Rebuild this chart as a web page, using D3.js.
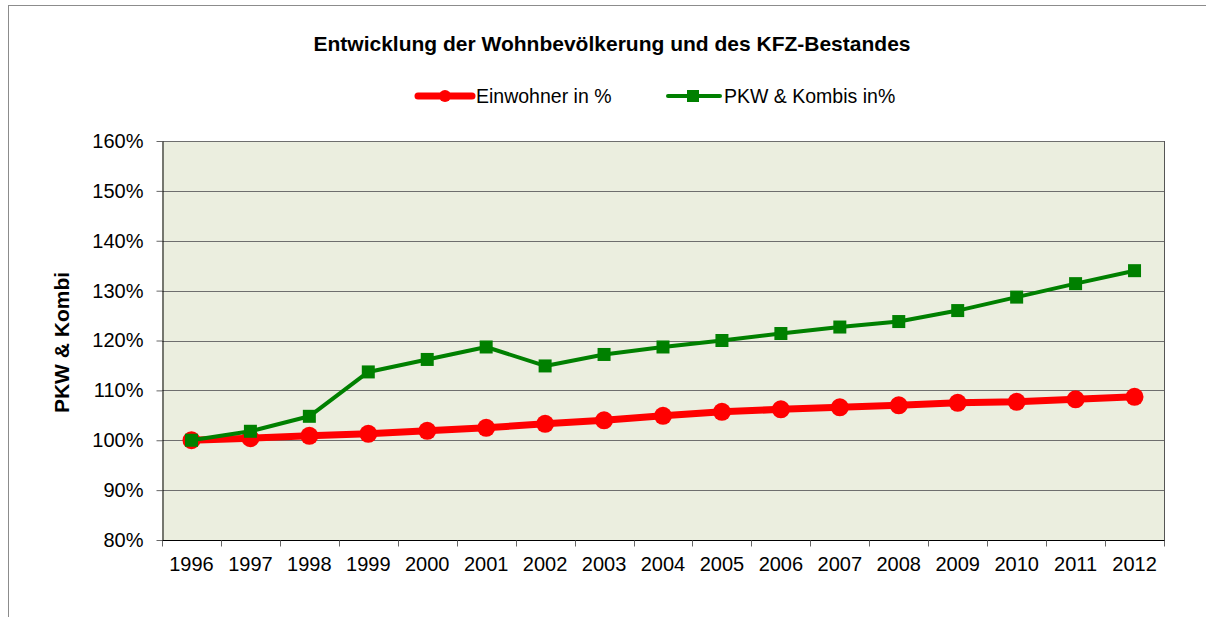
<!DOCTYPE html>
<html>
<head>
<meta charset="utf-8">
<script src="https://cdn.jsdelivr.net/npm/d3@7"></script>
<style>
  body { margin: 0; background: #fff; }
  text { font-family: Arial, "Liberation Sans", sans-serif; fill: #000; }
</style>
</head>
<body>
<div id="root"></div>
<script>
// data
const years = ["1996","1997","1998","1999","2000","2001","2002","2003","2004",
               "2005","2006","2007","2008","2009","2010","2011","2012"];
const einwohner = [100.0,100.4,100.9,101.3,101.9,102.5,103.3,104.0,104.9,
                   105.7,106.2,106.6,107.0,107.5,107.7,108.2,108.7];
const pkw = [100.0,101.8,104.8,113.7,116.2,118.7,114.9,117.2,118.7,
             120.0,121.4,122.7,123.8,126.0,128.7,131.4,134.0];
const yTicks = [80,90,100,110,120,130,140,150,160];

const W = 1206, H = 617;
const plot = {left: 162, top: 141, right: 1164, bottom: 540};

const svg = d3.select("#root").append("svg")
    .attr("width", W).attr("height", H);

// outer chart frame
svg.append("rect")
    .attr("x", 8.5).attr("y", 5.5)
    .attr("width", 1220).attr("height", 640)
    .attr("fill", "#fff").attr("stroke", "#8c8c8c");

// scales
const x = d3.scaleBand().domain(years).range([plot.left, plot.right]);
const y = d3.scaleLinear().domain([80, 160]).range([plot.bottom, plot.top]);
const cx = d => x(d) + x.bandwidth() / 2;

// plot background
svg.append("rect")
    .attr("x", plot.left).attr("y", plot.top)
    .attr("width", plot.right - plot.left).attr("height", plot.bottom - plot.top)
    .attr("fill", "#ebeedf");

// gridlines
svg.append("g").selectAll("line")
    .data(yTicks.slice(1))
    .join("line")
    .attr("x1", plot.left).attr("x2", plot.right)
    .attr("y1", d => Math.round(y(d)) + 0.5).attr("y2", d => Math.round(y(d)) + 0.5)
    .attr("stroke", "#6e6e6e").attr("stroke-width", 1);

// right border of plot
svg.append("line")
    .attr("x1", plot.right + 0.5).attr("x2", plot.right + 0.5)
    .attr("y1", plot.top).attr("y2", plot.bottom)
    .attr("stroke", "#555");

// y axis
const yAxis = d3.axisLeft(y).tickValues(yTicks)
    .tickFormat(d => d + "%").tickSize(6).tickSizeOuter(0).tickPadding(13);
const gy = svg.append("g")
    .attr("transform", "translate(" + (plot.left + 0.5) + ",0)")
    .call(yAxis);
gy.select(".domain").attr("stroke", "#000");
gy.selectAll(".tick line").attr("stroke", "#666");
gy.selectAll("text").style("font-size", "20px").attr("fill", "#000");

// x axis: ticks at category boundaries
const gx = svg.append("g")
    .attr("transform", "translate(0," + (plot.bottom + 0.5) + ")");
gx.append("line")
    .attr("x1", plot.left).attr("x2", plot.right + 1)
    .attr("stroke", "#000");
gx.selectAll(".bt")
    .data(years.concat(["end"]))
    .join("line")
    .attr("class", "bt")
    .attr("x1", (d, i) => Math.round(plot.left + i * x.bandwidth()) + 0.5)
    .attr("x2", (d, i) => Math.round(plot.left + i * x.bandwidth()) + 0.5)
    .attr("y1", 0).attr("y2", 6)
    .attr("stroke", "#666");
gx.selectAll(".lbl")
    .data(years)
    .join("text")
    .attr("class", "lbl")
    .attr("x", d => cx(d))
    .attr("y", 30)
    .attr("text-anchor", "middle")
    .style("font-size", "20px")
    .text(d => d);

// series
const line = d3.line().x((d, i) => cx(years[i])).y(d => y(d));

svg.append("path")
    .datum(einwohner)
    .attr("d", line)
    .attr("fill", "none").attr("stroke", "#ff0000")
    .attr("stroke-width", 7).attr("stroke-linejoin", "round");
svg.append("g").selectAll("circle")
    .data(einwohner)
    .join("circle")
    .attr("cx", (d, i) => cx(years[i]))
    .attr("cy", d => y(d))
    .attr("r", 9)
    .attr("fill", "#ff0000");

svg.append("path")
    .datum(pkw)
    .attr("d", line)
    .attr("fill", "none").attr("stroke", "#008000")
    .attr("stroke-width", 4).attr("stroke-linejoin", "round");
svg.append("g").selectAll("rect")
    .data(pkw)
    .join("rect")
    .attr("x", (d, i) => cx(years[i]) - 6.5)
    .attr("y", d => y(d) - 6.5)
    .attr("width", 13).attr("height", 13)
    .attr("fill", "#008000");

// title
svg.append("text")
    .attr("x", 612).attr("y", 51)
    .attr("text-anchor", "middle")
    .style("font-size", "21px").style("font-weight", "bold")
    .text("Entwicklung der Wohnbevölkerung und des KFZ-Bestandes");

// y axis title
svg.append("text")
    .attr("transform", "translate(69," + ((plot.top + plot.bottom) / 2 + 2) + ")rotate(-90)")
    .attr("text-anchor", "middle")
    .style("font-size", "21px").style("font-weight", "bold")
    .text("PKW & Kombi");

// legend
const legend = svg.append("g").attr("transform", "translate(0,96)");
legend.append("line")
    .attr("x1", 418).attr("x2", 472)
    .attr("stroke", "#ff0000").attr("stroke-width", 7).attr("stroke-linecap", "round");
legend.append("circle").attr("cx", 445).attr("cy", 0).attr("r", 6).attr("fill", "#ff0000");
legend.append("text").attr("x", 476).attr("y", 7)
    .style("font-size", "19.5px").text("Einwohner in %");

legend.append("line")
    .attr("x1", 668).attr("x2", 720)
    .attr("stroke", "#008000").attr("stroke-width", 4).attr("stroke-linecap", "round");
legend.append("rect").attr("x", 687).attr("y", -6).attr("width", 12).attr("height", 12)
    .attr("fill", "#008000");
legend.append("text").attr("x", 724).attr("y", 7)
    .style("font-size", "19.5px").text("PKW & Kombis in%");
</script>
</body>
</html>
